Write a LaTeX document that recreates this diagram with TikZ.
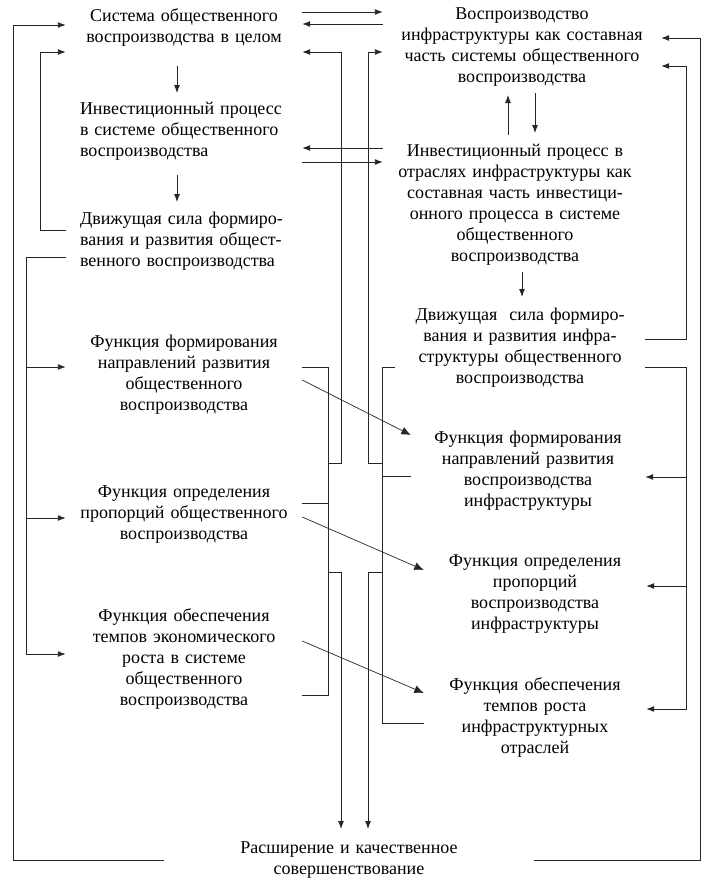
\documentclass[tikz,border=0pt]{standalone}
\usepackage{fontspec}
\setmainfont{Liberation Serif}
\usepackage{tikz}
\usetikzlibrary{arrows.meta}
\usetikzlibrary{positioning}

\newcommand{\boxfont}{\fontsize{18pt}{21pt}\selectfont}

\tikzset{
  lbox/.style={text width=220pt, inner xsep=8pt, inner ysep=0pt, align=center, font=\boxfont},
  lleft/.style={lbox, text width=208pt, inner xsep=14pt, align=left},
  rbox/.style={text width=250pt, inner xsep=14pt, inner ysep=0pt, align=center, font=\boxfont},
  rfun/.style={text width=222pt, inner xsep=0pt, inner ysep=0pt, align=center, font=\boxfont},
  link/.style={draw=black!85, line width=0.9pt},
  tip/.style={-{Latex[length=8pt,width=6pt]}},
  bigtip/.style={-{Latex[length=9.5pt,width=8pt]}}
}

\begin{document}
\begin{tikzpicture}[x=1pt, y=-1pt]
  \useasboundingbox (0,0) rectangle (709,895);
  % left column
  \node[lbox] (sys) at (184,27.5) {Система общественного\\воспроизводства в целом};
  \node[lleft] (inv) at (184,131.5) {Инвестиционный процесс\\в системе общественного\\воспроизводства};
  \node[lleft] (drv) at (184,241) {Движущая сила формиро-\\вания и развития общест-\\венного воспроизводства};
  \node[lbox] (ff) at (184,375) {Функция формирования\\направлений развития\\общественного\\воспроизводства};
  \node[lbox] (fp) at (184,515) {Функция определения\\пропорций общественного\\воспроизводства};
  \node[lbox] (ft) at (184,659) {Функция обеспечения\\темпов экономического\\роста в системе\\общественного\\воспроизводства};
  % right column
  \node[rbox] (rsys) at (522,47) {Воспроизводство\\инфраструктуры как составная\\часть системы общественного\\воспроизводства};
  \node[rbox] (rinv) at (515,205) {Инвестиционный процесс в\\отраслях инфраструктуры как\\составная часть инвестици-\\онного процесса в системе\\общественного\\воспроизводства};
  \node[rfun, text width=250pt] (rdrv) at (520,348) {Движущая~~сила формиро-\\вания и развития инфра-\\структуры общественного\\воспроизводства};
  \node[rfun, text width=234pt] (rff) at (528,470.5) {Функция формирования\\направлений развития\\воспроизводства\\инфраструктуры};
  \node[rfun] (rfp) at (535,594) {Функция определения\\пропорций\\воспроизводства\\инфраструктуры};
  \node[rfun] (rft) at (535,717.5) {Функция обеспечения\\темпов роста\\инфраструктурных\\отраслей};
  % bottom
  \node[lbox, text width=370pt, inner xsep=0pt] (res) at (349,860.5) {Расширение и качественное\\совершенствование};

  % bus lines
  \coordinate (outL) at (13,0);
  \coordinate (loopL) at (40,0);
  \coordinate (feedL) at (26,0);
  \coordinate (lcol) at (328,0);
  \coordinate (lbus) at (341,0);
  \coordinate (rbus) at (368,0);
  \coordinate (rcol) at (382,0);
  \coordinate (feedR) at (686,0);
  \coordinate (outR) at (700,0);

  % links between the two columns
  \draw[link, tip] (sys.east |- 0,12) -- (rsys.west |- 0,12);
  \draw[link, tip] (rsys.west |- 0,24) -- (sys.east |- 0,24);
  \draw[link, tip] (rsys.west |- 0,148) -- (sys.east |- 0,148);
  \draw[link, tip] (sys.east |- 0,162) -- (rsys.west |- 0,162);

  % vertical steps
  \draw[link, tip] ([xshift=-7pt]sys.center) ++(0,38.5) -- ++(0,27);
  \draw[link, tip] ([xshift=-7pt]inv.center) ++(0,43.5) -- ++(0,27);
  \draw[link, tip] ([xshift=-14pt]rsys.center) ++(0,88) -- ++(0,-40);
  \draw[link, tip] ([xshift=13pt]rsys.center) ++(0,46) -- ++(0,40);
  \draw[link, tip] ([xshift=7pt]rinv.center) ++(0,67) -- ++(0,25);

  % left outer loops
  \draw[link, tip] (res.west) -| (outL |- 0,25) -- (sys.west |- 0,25);
  \draw[link, tip] (drv.west |- 0,230) -| (loopL |- 0,52) -- (sys.west |- 0,52);
  \draw[link, tip] (drv.west |- 0,257) -| (feedL |- 0,654) -- (ft.west |- 0,654);
  \draw[link, tip] (feedL |- 0,367) -- (ff.west |- 0,367);
  \draw[link, tip] (feedL |- 0,518) -- (fp.west |- 0,518);

  % right outer loops
  \draw[link, tip] (res.east) -| (outR |- 0,38) -- (rsys.east |- 0,38);
  \draw[link, tip] (rdrv.east |- 0,339) -| (feedR |- 0,66) -- (rsys.east |- 0,66);
  \draw[link, tip] (rdrv.east |- 0,367) -| (feedR |- 0,709) -- (rft.east |- 0,709);
  \draw[link, tip] (feedR |- 0,477) -- (rff.east |- 0,477);
  \draw[link, tip] (feedR |- 0,586) -- (rfp.east |- 0,586);

  % central buses
  \draw[link, tip] (lcol |- 0,463) -| (lbus |- 0,52) -- (sys.east |- 0,52);
  \draw[link] (ff.east |- 0,367) -| (lcol |- 0,695) -- (ft.east |- 0,695);
  \draw[link] (fp.east |- 0,503) -- (lcol |- 0,503);
  \draw[link, tip] (lcol |- 0,572) -| (lbus |- 0,829);
  \draw[link, tip] (rcol |- 0,463) -| (rbus |- 0,52) -- (rsys.west |- 0,52);
  \draw[link] (rdrv.west |- 0,367) -| (rcol |- 0,723) -- (rft.west |- 0,723);
  \draw[link] (rcol |- 0,476) -- (rff.west |- 0,476);
  \draw[link, tip] (rcol |- 0,572) -| (rbus |- 0,829);

  % functions to functions
  \draw[link, bigtip, line width=0.7pt] (ff.east |- 0,380) -- (rff.west |- 0,435);
  \draw[link, bigtip, line width=0.7pt] (fp.east |- 0,517) -- (rfp.west |- 0,570);
  \draw[link, bigtip, line width=0.7pt] (ft.east |- 0,641) -- (rft.west |- 0,693);
\end{tikzpicture}
\end{document}
